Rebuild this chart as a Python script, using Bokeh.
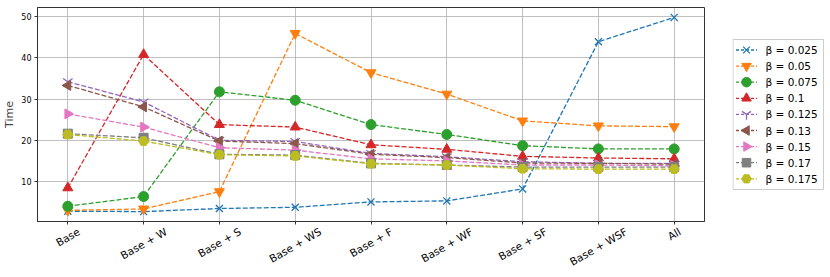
import math
from bokeh.plotting import figure
from bokeh.layouts import row
from bokeh.models import Range1d, FixedTicker, LinearAxis
from bokeh.core.properties import value
from bokeh.embed import file_html
from bokeh.resources import INLINE

categories = ["Base", "Base + W", "Base + S", "Base + WS", "Base + F",
              "Base + WF", "Base + SF", "Base + WSF", "All"]
beta_labels = ["0.025", "0.05", "0.075", "0.1", "0.125", "0.13", "0.15", "0.17", "0.175"]

t_0025 = [2.8, 2.7, 3.45, 3.75, 5.05, 5.3, 8.2, 43.9, 49.8]
t_005 = [3.0, 3.35, 7.55, 45.9, 36.4, 31.2, 24.7, 23.5, 23.3]
t_0075 = [4.0, 6.35, 31.75, 29.7, 23.8, 21.4, 18.7, 17.9, 17.9]
t_01 = [8.45, 40.8, 23.8, 23.2, 18.9, 17.8, 16.1, 15.7, 15.5]
t_0125 = [34.2, 29.3, 20.0, 19.7, 16.8, 16.0, 14.8, 14.4, 14.4]
t_013 = [33.3, 28.1, 19.8, 19.2, 16.6, 15.8, 14.5, 14.4, 14.2]
t_015 = [26.4, 23.2, 18.2, 17.6, 15.5, 15.0, 14.0, 14.0, 13.8]
t_017 = [21.6, 20.6, 16.6, 16.4, 14.4, 14.0, 13.5, 13.5, 13.5]
t_0175 = [21.4, 19.8, 16.5, 16.2, 14.3, 14.0, 13.1, 13.0, 13.0]

series = [t_0025, t_005, t_0075, t_01, t_0125, t_013, t_015, t_017, t_0175]
colors = ["#1f77b4", "#ff7f0e", "#2ca02c", "#d62728", "#9467bd",
          "#8c564b", "#e377c2", "#7f7f7f", "#bcbd22"]
markers = ["x", "inverted_triangle", "circle", "triangle", "y",
           "triangle", "triangle", "square", "hex"]
angles = [0, 0, 0, 0, 0, math.pi / 2, -math.pi / 2, 0, 0]
sizes = [10, 10, 10, 10, 11, 10, 10, 9, 10]

FONT = "DejaVu Sans"
XLAB_PX = 10.5
# approximate DejaVu Sans advance widths (em) used to centre rotated labels
EM = {"B": .686, "a": .613, "s": .521, "e": .615, " ": .318, "+": .838,
      "W": .989, "S": .635, "F": .575, "A": .684, "l": .278}

H = 277
p = figure(width=732, height=H, output_backend="svg", toolbar_location=None,
           x_range=Range1d(-0.4, 8.4), y_range=Range1d(0.3, 52.2),
           min_border_left=37, min_border_right=28, min_border_top=7,
           min_border_bottom=56)

# legend panel: its frame is aligned with the main frame; ranges in pixels
FRAME_TOP, FRAME_BOTTOM = 7, 221
p2 = figure(width=98, height=H, output_backend="svg", toolbar_location=None,
            x_range=Range1d(0, 98), y_range=Range1d(FRAME_BOTTOM, FRAME_TOP),
            min_border_left=0, min_border_right=0, min_border_top=0,
            min_border_bottom=0)
p2.axis.visible = False
p2.grid.visible = False
p2.outline_line_color = None


def draw(fig, i, xs, ys, size_scale=1.0):
    c = colors[i]
    fig.line(xs, ys, line_color=c, line_width=1.3, line_dash="5 2")
    if markers[i] in ("x", "y"):
        fig.scatter(xs, ys, marker=markers[i], size=sizes[i] * size_scale, line_color=c,
                    line_width=1.3, fill_color=c)
    else:
        fig.scatter(xs, ys, marker=markers[i], size=sizes[i] * size_scale, angle=angles[i],
                    line_color=c, fill_color=c, line_width=1)


xs = list(range(len(categories)))
for i, ys in enumerate(series):
    draw(p, i, xs, ys)

# manual legend (box, dashed sample line, rotated markers, labels)
LEG_TOP, LEG_BOTTOM, LEG_W = 39, 189, 91
first_y, pitch = 49.5, 16.1
p2.quad(left=[0.5], right=[LEG_W], top=[LEG_TOP], bottom=[LEG_BOTTOM],
        fill_color="white", line_color="#cccccc", line_width=1)
for i in range(len(series)):
    yk = first_y + pitch * i
    c = colors[i]
    p2.line([3.5, 24.5], [yk, yk], line_color=c, line_width=1.3, line_dash="3 2")
    if markers[i] in ("x", "y"):
        p2.scatter([14], [yk], marker=markers[i], size=sizes[i] * 0.95, line_color=c,
                   line_width=1.3, fill_color=c)
    else:
        p2.scatter([14], [yk], marker=markers[i], size=sizes[i] * 0.95, angle=angles[i],
                   line_color=c, fill_color=c, line_width=1)
p2.text(x=[33] * len(series), y=[first_y + pitch * i for i in range(len(series))],
        text=["β = " + b for b in beta_labels], text_font=value(FONT),
        text_font_size="10.5px", text_baseline="middle", text_align="left",
        text_color="black")

# tick-mark axis (no labels)
p.xaxis.ticker = FixedTicker(ticks=xs)
p.xaxis.major_label_overrides = {i: "" for i in xs}
p.xaxis.major_label_text_font_size = "0px"
p.xaxis.major_label_standoff = 0
p.xgrid.ticker = FixedTicker(ticks=xs)

# label axis: positions shifted so rotated labels are centred on ticks
px_per_unit = 667 / 8.8
shifted = []
for i, lab in enumerate(categories):
    L = sum(EM.get(ch, 0.6) for ch in lab) * XLAB_PX
    off = (L * math.cos(math.pi / 6)) / 2.0 / px_per_unit
    shifted.append(round(i + off, 4))
lab_axis = LinearAxis(ticker=FixedTicker(ticks=shifted),
                      major_label_overrides={s: categories[i] for i, s in enumerate(shifted)},
                      major_label_orientation=math.pi / 6,
                      major_label_text_font=FONT, major_label_text_font_size=f"{XLAB_PX}px",
                      major_label_text_color="black", major_label_standoff=0,
                      major_tick_line_color=None, minor_tick_line_color=None,
                      axis_line_color=None)
p.add_layout(lab_axis, "below")

p.yaxis.ticker = FixedTicker(ticks=[10, 20, 30, 40, 50])
p.yaxis.axis_label = "Time"

for ax in (p.xaxis[0], p.yaxis[0]):
    ax.major_label_text_font = FONT
    ax.major_label_text_color = "black"
    ax.major_tick_out = 3
    ax.major_tick_in = 0
    ax.minor_tick_line_color = None
    ax.axis_line_color = "#333333"
    ax.major_tick_line_color = "#333333"
p.yaxis.major_label_text_font_size = "8px"
p.yaxis.axis_label_text_font = FONT
p.yaxis.axis_label_text_font_size = "11px"
p.yaxis.axis_label_text_font_style = "normal"
p.yaxis.axis_label_standoff = 2
p.yaxis.major_label_standoff = 3

p.xgrid.grid_line_color = "#b0b0b0"
p.ygrid.grid_line_color = "#b0b0b0"
p.xgrid.grid_line_width = 0.8
p.ygrid.grid_line_width = 0.8
p.outline_line_color = "#333333"
p.outline_line_width = 1
p.background_fill_color = "white"

layout = row(p, p2)
open("out.html", "w").write(file_html(layout, INLINE))
